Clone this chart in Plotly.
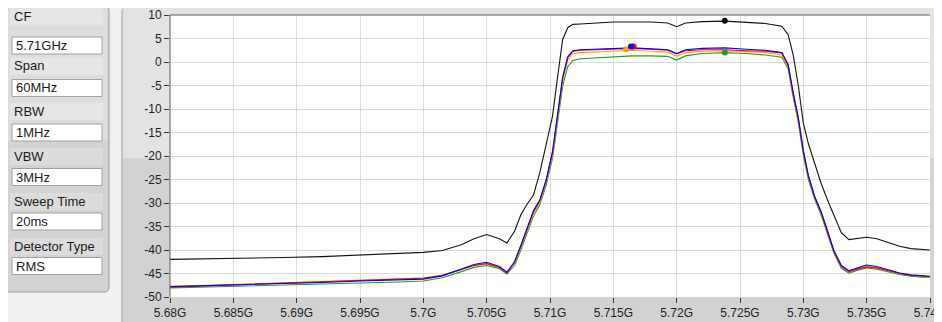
import plotly.graph_objects as go

# the page puts the figure 8px in from the window corner, so the figure
# is made 8px smaller and all window-pixel positions are shifted by that
OFF = 8
W, H = 942 - OFF, 322 - OFF

# sweep frequency points (MHz) shared by all traces
freq_mhz = [
    5680, 5683, 5686, 5689, 5692, 5695, 5698, 5700, 5701.5, 5703,
    5704, 5705, 5706, 5706.6, 5707.2, 5707.7, 5708.2, 5708.7, 5709.2, 5709.7,
    5710.2, 5710.6, 5711.0, 5711.4, 5711.8, 5712.4, 5713.5, 5715, 5716.5, 5718,
    5719.3, 5720, 5720.7, 5722, 5723.8, 5725.5, 5727, 5728.3, 5728.8, 5729.2,
    5729.6, 5730.0, 5730.4, 5730.9, 5731.4, 5731.9, 5732.4, 5733.0, 5733.6, 5734.3,
    5735.0, 5735.8, 5736.7, 5737.6, 5738.5, 5739.3, 5740,
]

level_black = [
    -42.0, -41.9, -41.8, -41.6, -41.4, -41.1, -40.7, -40.5, -40.1, -38.9,
    -37.6, -36.7, -37.6, -38.5, -36.0, -32.5, -30.2, -28.3, -23.5, -17.4,
    -11.5, -3.2, 4.8, 7.3, 8.0, 8.1, 8.3, 8.5, 8.5, 8.5,
    8.3, 7.5, 8.3, 8.6, 8.7, 8.5, 8.2, 7.6, 5.8, 1.5,
    -5.0, -13.0, -17.4, -21.6, -25.8, -29.3, -32.6, -36.3, -37.8, -37.6,
    -37.3, -37.6, -38.4, -39.2, -39.7, -39.9, -40.0,
]

level_red = [
    -47.9, -47.6, -47.4, -47.1, -46.8, -46.5, -46.2, -46.0, -45.4, -44.2,
    -43.3, -42.9, -43.7, -44.9, -42.6, -39.2, -35.6, -31.9, -29.5, -25.3,
    -19.3, -11.5, -3.4, 0.9, 2.3, 2.5, 2.6, 2.7, 2.9, 2.7,
    2.5, 1.7, 2.4, 2.6, 2.6, 2.4, 2.3, 1.9, -0.7, -6.8,
    -12.0, -19.0, -24.3, -28.8, -32.0, -36.2, -40.2, -43.5, -44.6, -44.1,
    -43.6, -43.8, -44.4, -45.0, -45.4, -45.6, -45.7,
]

level_blue = [
    -47.8, -47.6, -47.4, -47.2, -46.9, -46.6, -46.3, -46.2, -45.5, -44.1,
    -43.1, -42.6, -43.5, -44.7, -42.5, -39.0, -35.5, -31.6, -29.3, -25.0,
    -19.0, -11.3, -3.2, 1.1, 2.4, 2.6, 2.7, 2.8, 3.0, 2.8,
    2.6, 1.8, 2.6, 2.9, 3.0, 2.7, 2.5, 2.0, -0.5, -6.5,
    -11.8, -18.8, -24.2, -28.6, -31.8, -35.8, -40.0, -43.3, -44.4, -43.8,
    -43.2, -43.5, -44.2, -44.9, -45.3, -45.5, -45.6,
]

level_orange = [
    -47.7, -47.5, -47.2, -47.0, -46.7, -46.4, -46.1, -45.9, -45.4, -44.2,
    -43.3, -42.9, -43.7, -44.8, -42.8, -39.5, -36.0, -32.2, -29.8, -25.6,
    -19.8, -12.2, -4.0, 0.4, 1.8, 2.0, 2.1, 2.3, 2.5, 2.3,
    2.1, 1.2, 2.0, 2.3, 2.4, 2.2, 2.0, 1.5, -1.0, -7.0,
    -12.3, -19.2, -24.5, -28.8, -32.1, -36.1, -40.3, -43.6, -44.6, -44.0,
    -43.5, -43.8, -44.4, -45.0, -45.4, -45.6, -45.7,
]

level_green = [
    -48.1, -47.9, -47.7, -47.5, -47.3, -47.1, -46.8, -46.6, -45.9, -44.6,
    -43.7, -43.3, -44.0, -45.1, -43.3, -40.0, -36.6, -32.8, -30.3, -26.2,
    -20.5, -13.0, -5.2, -1.0, 0.3, 0.7, 0.9, 1.1, 1.3, 1.3,
    1.2, 0.4, 1.3, 1.8, 2.0, 1.8, 1.5, 1.0, -1.5, -7.5,
    -12.8, -19.8, -25.0, -29.2, -32.5, -36.5, -40.6, -43.9, -44.9, -44.3,
    -43.8, -44.1, -44.7, -45.2, -45.6, -45.8, -45.8,
]

# peak markers: black, red, blue, orange, green
marker_freq = [5723.8, 5716.6, 5716.4, 5716.0, 5723.8]
marker_level = [8.8, 3.3, 3.3, 2.7, 2.0]

x_tick_vals = [5680, 5685, 5690, 5695, 5700, 5705, 5710, 5715, 5720, 5725, 5730, 5735, 5740]
x_tick_text = ["5.68G", "5.685G", "5.69G", "5.695G", "5.7G", "5.705G", "5.71G",
               "5.715G", "5.72G", "5.725G", "5.73G", "5.735G", "5.74G"]
y_tick_vals = [10, 5, 0, -5, -10, -15, -20, -25, -30, -35, -40, -45, -50]
y_tick_text = ["10", "5", "0", "-5", "-10", "-15", "-20", "-25", "-30", "-35", "-40", "-45", "-50"]

setting_labels = ["CF", "Span", "RBW", "VBW", "Sweep Time", "Detector Type"]
setting_values = ["5.71GHz", "60MHz", "1MHz", "3MHz", "20ms", "RMS"]

FONT = "Liberation Sans, Arial, sans-serif"
TRACE_COLORS = ["#111111", "#ff0000", "#0000ff", "#ffa000", "#1fa01f"]
LABEL_Y = [16.5, 66, 111, 156, 201, 246]
BOX_Y = [45.5, 88, 132.5, 177, 221.5, 266]


def px(x):
    return (x - OFF) / W


def py(y):
    return 1 - (y - OFF) / H


def rounded(x0, y0, x1, y1, r):
    # rounded rectangle path in paper coords, corners given in pixels
    rx, ry = r / W, r / H
    X0, X1, Y0, Y1 = px(x0), px(x1), py(y0), py(y1)
    return (
        f"M {X0 + rx},{Y0} L {X1 - rx},{Y0} Q {X1},{Y0} {X1},{Y0 - ry} "
        f"L {X1},{Y1 + ry} Q {X1},{Y1} {X1 - rx},{Y1} L {X0 + rx},{Y1} "
        f"Q {X0},{Y1} {X0},{Y1 + ry} L {X0},{Y0 - ry} Q {X0},{Y0} {X0 + rx},{Y0} Z"
    )


def rect(x0, y0, x1, y1, fill, line_color=None, layer="below"):
    return {
        "type": "rect", "xref": "paper", "yref": "paper",
        "x0": px(x0), "x1": px(x1), "y0": py(y1), "y1": py(y0),
        "fillcolor": fill,
        "line": {"color": line_color, "width": 1} if line_color else {"width": 0},
        "layer": layer,
    }


fig = go.Figure()

series = [
    ("black", level_black, TRACE_COLORS[0]),
    ("green", level_green, TRACE_COLORS[4]),
    ("orange", level_orange, TRACE_COLORS[3]),
    ("red", level_red, TRACE_COLORS[1]),
    ("blue", level_blue, TRACE_COLORS[2]),
]
for name, levels, color in series:
    fig.add_trace(
        go.Scatter(
            x=freq_mhz,
            y=levels,
            mode="lines",
            name=name,
            line={"color": color, "width": 1.1},
            showlegend=False,
        )
    )

for i in [3, 1, 2, 4, 0]:
    fig.add_trace(
        go.Scatter(
            x=[marker_freq[i]],
            y=[marker_level[i]],
            mode="markers",
            marker={"color": TRACE_COLORS[i], "size": 6},
            showlegend=False,
        )
    )

shapes = [
    # window background
    rect(0, 0, 942, 322, "#f0f0f0"),
    # graph panel
    {"type": "path", "path": rounded(122, 7, 960, 340, 5), "xref": "paper", "yref": "paper",
     "fillcolor": "#d2d2d2", "line": {"color": "#a3a3a3", "width": 1}, "layer": "below"},
    rect(123, 8, 942, 158, "#e3e3e3"),
    # plot area background
    rect(170, 15, 930, 297, "#ffffff"),
    # settings panel
    {"type": "path", "path": rounded(3, 6, 109, 292, 5), "xref": "paper", "yref": "paper",
     "fillcolor": "#d3d3d3", "line": {"color": "#9c9c9c", "width": 1}, "layer": "below"},
    rect(4, 7, 108, 140, "#dedede"),
    # plot frame top / left
    {"type": "line", "x0": px(170), "x1": px(930), "y0": py(15), "y1": py(15), "xref": "paper",
     "yref": "paper", "line": {"color": "#5c5c5c", "width": 1}},
    {"type": "line", "x0": px(170), "x1": px(170), "y0": py(15), "y1": py(297), "xref": "paper",
     "yref": "paper", "line": {"color": "#5c5c5c", "width": 1}},
]

annotations = []
for label, value, label_y, box_y in zip(setting_labels, setting_values, LABEL_Y, BOX_Y):
    shapes.append(rect(10, label_y - 8, 103, label_y + 9, "rgba(255,255,255,0.22)"))
    shapes.append(rect(12, box_y - 8.5, 102, box_y + 8.5, "#ffffff", "#a0a0a0", "above"))
    annotations.append(
        {"text": label, "x": px(12), "y": py(label_y), "xref": "paper", "yref": "paper",
         "xanchor": "left", "yanchor": "middle", "showarrow": False,
         "font": {"family": FONT, "size": 13, "color": "#1a1a1a"}}
    )
    annotations.append(
        {"text": value, "x": px(14), "y": py(box_y), "xref": "paper", "yref": "paper",
         "xanchor": "left", "yanchor": "middle", "showarrow": False,
         "font": {"family": FONT, "size": 13, "color": "#1a1a1a"}}
    )

fig.update_layout(
    width=W,
    height=H,
    margin={"l": 0, "r": 0, "t": 0, "b": 0, "autoexpand": False},
    paper_bgcolor="#f0f0f0",
    plot_bgcolor="#ffffff",
    font={"family": FONT, "size": 12, "color": "#1e1e1e"},
    showlegend=False,
    shapes=shapes,
    annotations=annotations,
    hovermode=False,
)
fig.update_xaxes(
    domain=[px(170), px(930)],
    range=[5680, 5740],
    tickvals=x_tick_vals,
    ticktext=x_tick_text,
    ticks="outside",
    ticklen=5,
    tickcolor="#333333",
    tickfont={"family": FONT, "size": 12, "color": "#1e1e1e"},
    ticklabeloverflow="allow",
    showgrid=True,
    gridcolor="#dcdcdc",
    gridwidth=1,
    zeroline=False,
    showline=False,
    automargin=False,
)
fig.update_yaxes(
    domain=[py(297), py(15)],
    range=[-50, 10],
    tickvals=y_tick_vals,
    ticktext=y_tick_text,
    ticks="outside",
    ticklen=5,
    tickcolor="#333333",
    tickfont={"family": FONT, "size": 12, "color": "#1e1e1e"},
    showgrid=True,
    gridcolor="#dcdcdc",
    gridwidth=1,
    zeroline=False,
    showline=False,
    automargin=False,
)

fig.write_html("out.html")
